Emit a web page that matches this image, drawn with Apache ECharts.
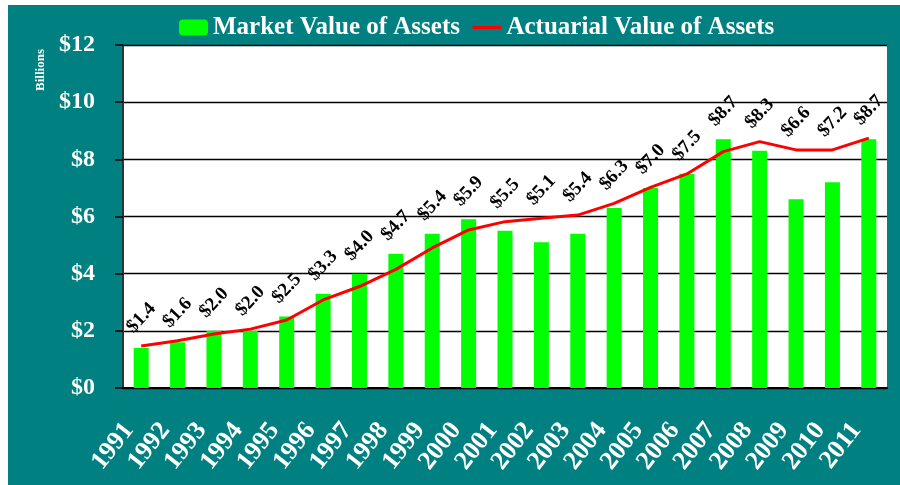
<!DOCTYPE html>
<html>
<head>
<meta charset="utf-8">
<script src="https://cdn.jsdelivr.net/npm/echarts@6/dist/echarts.min.js"></script>
<style>
  html, body { margin: 0; padding: 0; background: #fff; }
  #chart {
    width: 900px;
    height: 485px;
    background: linear-gradient(#008080, #008080) 8px 5px / 892px 480px no-repeat, #fff;
  }
</style>
</head>
<body>
<div id="chart"></div>
<script>
// years on the x axis
const years = ["1991", "1992", "1993", "1994", "1995", "1996", "1997", "1998", "1999", "2000",
  "2001", "2002", "2003", "2004", "2005", "2006", "2007", "2008", "2009", "2010", "2011"];
// market value (bars), billions
const marketValue = [1.4, 1.6, 2.0, 2.0, 2.5, 3.3, 4.0, 4.7, 5.4, 5.9,
  5.5, 5.1, 5.4, 6.3, 7.0, 7.5, 8.7, 8.3, 6.6, 7.2, 8.7];
// actuarial value (red line)
const actuarialValue = [1.47, 1.65, 1.89, 2.06, 2.38, 3.08, 3.55, 4.15, 4.9, 5.53,
  5.82, 5.94, 6.05, 6.46, 7.02, 7.49, 8.27, 8.62, 8.33, 8.33, 8.74];
// y axis ticks
const yMin = 0, yMax = 12, yStep = 2;

// labels sit above whichever is higher, bar or line
const labelAnchor = marketValue.map((v, i) => Math.max(v, actuarialValue[i]));

const serif = "'Liberation Serif', 'Times New Roman', serif";

const myChart = echarts.init(document.getElementById("chart"));

const option = {
  backgroundColor: "transparent",
  animation: false,
  textStyle: { fontFamily: serif },
  legend: {
    top: 10,
    left: 174,
    itemGap: 11,
    itemWidth: 29,
    itemHeight: 16,
    data: [
      "Market Value of Assets",
      {
        name: "Actuarial Value of Assets",
        itemStyle: { opacity: 0 },
        lineStyle: { color: "#ff0000", width: 3, opacity: 1 },
      },
    ],
    textStyle: {
      color: "#fff",
      fontSize: 25,
      fontWeight: "bold",
      fontFamily: serif,
    },
  },
  graphic: [
    {
      type: "text",
      x: 41,
      y: 70,
      rotation: Math.PI / 2,
      style: {
        text: "Billions",
        fill: "#fff",
        font: "bold 13px " + serif,
        align: "center",
        verticalAlign: "middle",
      },
    },
  ],
  grid: {
    left: 123,
    right: 13,
    top: 45,
    bottom: 97,
    show: true,
    backgroundColor: "#fff",
    borderWidth: 0,
  },
  xAxis: {
    type: "category",
    data: years,
    axisTick: { show: false },
    axisLine: { lineStyle: { color: "#000", width: 2 } },
    axisLabel: {
      interval: 0,
      rotate: 52,
      margin: 22,
      padding: [0, 20, 0, 0],
      color: "#fff",
      fontSize: 26,
      fontWeight: "bold",
      fontFamily: serif,
    },
  },
  yAxis: {
    type: "value",
    min: yMin,
    max: yMax,
    interval: yStep,
    axisLine: { show: true, lineStyle: { color: "#333", width: 2 } },
    axisTick: { show: true, length: 8, lineStyle: { color: "#000", width: 1.5 } },
    splitLine: { lineStyle: { color: "#000", width: 1.3 } },
    axisLabel: {
      margin: 28,
      color: "#fff",
      fontSize: 24,
      fontWeight: "bold",
      fontFamily: serif,
      formatter: (v) => "$" + v,
    },
  },
  series: [
    {
      name: "Market Value of Assets",
      type: "bar",
      barWidth: 15,
      itemStyle: { color: "#00ff00" },
      data: marketValue,
    },
    {
      name: "Actuarial Value of Assets",
      type: "line",
      symbol: "none",
      lineStyle: { color: "#ff0000", width: 3 },
      itemStyle: { color: "#ff0000" },
      z: 3,
      data: actuarialValue,
    },
    {
      // invisible bars that only carry the value labels
      name: "labels",
      type: "bar",
      barWidth: 15,
      barGap: "-100%",
      silent: true,
      itemStyle: { color: "rgba(0,0,0,0)" },
      z: 4,
      label: {
        show: true,
        position: "top",
        distance: 28,
        rotate: 47,
        align: "center",
        verticalAlign: "middle",
        color: "#000",
        fontSize: 19,
        fontWeight: "bold",
        fontFamily: serif,
        formatter: (p) => "$" + marketValue[p.dataIndex].toFixed(1),
      },
      data: labelAnchor,
    },
  ],
};

myChart.setOption(option);
</script>
</body>
</html>
